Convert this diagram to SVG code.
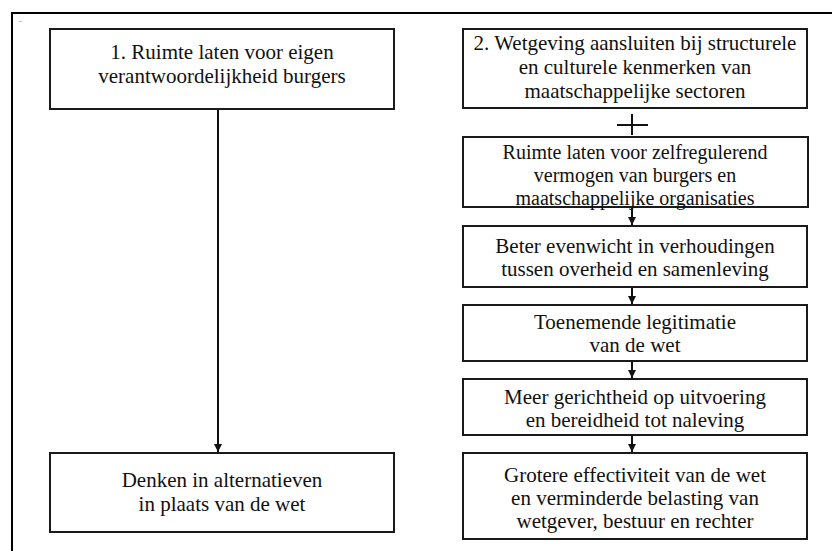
<svg xmlns="http://www.w3.org/2000/svg" width="832" height="551" viewBox="0 0 832 551">
  <defs>
    <style>
      .box { fill: #ffffff; stroke: #1a1a1a; stroke-width: 2; }
      .frame { fill: none; stroke: #000000; stroke-width: 2; }
      .label { font-family: "Liberation Serif", "Times New Roman", serif; font-size: 21px; fill: #111111; text-anchor: middle; }
      .tight { font-size: 20px; }
      .link { fill: none; stroke: #111111; stroke-width: 2; }
    </style>
    <marker id="arrow" viewBox="0 0 8 8" refX="8" refY="4" markerWidth="8" markerHeight="8" markerUnits="userSpaceOnUse" orient="auto">
      <path d="M0,0 L8,4 L0,8 Z" fill="#111111"/>
    </marker>
  </defs>

  <rect width="832" height="551" fill="#ffffff"/>

  <!-- outer frame (top and left edges) -->
  <path class="frame" d="M12,560 L12,13 L840,13"/>
  <rect x="19" y="21" width="3" height="1" fill="#bbbbbb"/>

  <!-- connectors -->
  <g id="connectors">
    <line class="link" x1="218" y1="109" x2="218" y2="452" marker-end="url(#arrow)"/>
    <line class="link" x1="632" y1="207" x2="632" y2="225" marker-end="url(#arrow)"/>
    <line class="link" x1="632" y1="287" x2="632" y2="304" marker-end="url(#arrow)"/>
    <line class="link" x1="632" y1="361" x2="632" y2="378" marker-end="url(#arrow)"/>
    <line class="link" x1="632" y1="435" x2="632" y2="452" marker-end="url(#arrow)"/>
    <!-- plus sign joining the two upper boxes -->
    <g id="plus">
      <line class="link" x1="617" y1="125" x2="648" y2="125"/>
      <line class="link" x1="632" y1="114" x2="632" y2="135"/>
    </g>
  </g>

  <!-- left column -->
  <g id="node-eigen-verantwoordelijkheid">
    <rect class="box" x="50" y="29" width="344" height="80"/>
    <text class="label" x="222" y="59">1. Ruimte laten voor eigen</text>
    <text class="label" x="222" y="83">verantwoordelijkheid burgers</text>
  </g>

  <g id="node-alternatieven">
    <rect class="box" x="50" y="453" width="344" height="79"/>
    <text class="label" x="222" y="487">Denken in alternatieven</text>
    <text class="label" x="222" y="511">in plaats van de wet</text>
  </g>

  <!-- right column -->
  <g id="node-wetgeving">
    <rect class="box" x="463" y="29" width="344" height="79"/>
    <text class="label" x="635" y="50">2. Wetgeving aansluiten bij structurele</text>
    <text class="label" x="635" y="74">en culturele kenmerken van</text>
    <text class="label" x="635" y="98">maatschappelijke sectoren</text>
  </g>

  <g id="node-zelfregulerend">
    <rect class="box" x="463" y="137" width="345" height="70"/>
    <text class="label tight" x="635" y="159">Ruimte laten voor zelfregulerend</text>
    <text class="label tight" x="635" y="182">vermogen van burgers en</text>
    <text class="label tight" x="635" y="205">maatschappelijke organisaties</text>
  </g>

  <g id="node-evenwicht">
    <rect class="box" x="463" y="226" width="344" height="61"/>
    <text class="label" x="635" y="253">Beter evenwicht in verhoudingen</text>
    <text class="label" x="635" y="276">tussen overheid en samenleving</text>
  </g>

  <g id="node-legitimatie">
    <rect class="box" x="463" y="305" width="344" height="56"/>
    <text class="label" x="635" y="329">Toenemende legitimatie</text>
    <text class="label" x="635" y="352">van de wet</text>
  </g>

  <g id="node-uitvoering">
    <rect class="box" x="463" y="379" width="344" height="56"/>
    <text class="label" x="635" y="404">Meer gerichtheid op uitvoering</text>
    <text class="label" x="635" y="427">en bereidheid tot naleving</text>
  </g>

  <g id="node-effectiviteit">
    <rect class="box" x="463" y="453" width="344" height="86"/>
    <text class="label" x="635" y="482">Grotere effectiviteit van de wet</text>
    <text class="label" x="635" y="505">en verminderde belasting van</text>
    <text class="label" x="635" y="528">wetgever, bestuur en rechter</text>
  </g>
</svg>
